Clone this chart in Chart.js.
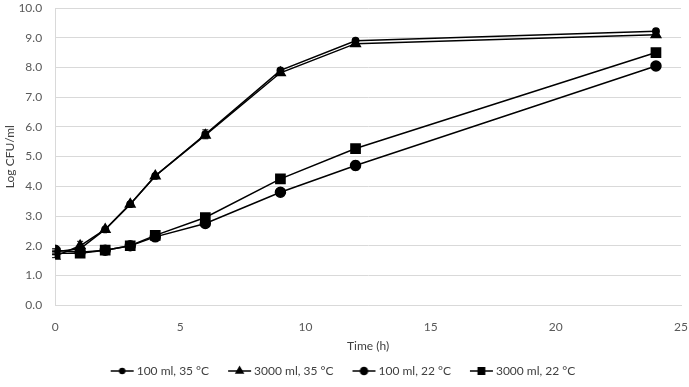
<!DOCTYPE html>
<html>
<head>
<meta charset="utf-8">
<script src="https://cdn.jsdelivr.net/npm/chart.js@4/dist/chart.umd.min.js"></script>
<style>
  body { margin: 0; background: #fff; }
</style>
</head>
<body>
<canvas id="myChart" width="689" height="387"></canvas>
<script>
const times = [0, 1, 2, 3, 4, 6, 9, 12, 24];
const seriesNames = ['100 ml, 35 °C', '3000 ml, 35 °C', '100 ml, 22 °C', '3000 ml, 22 °C'];

const small35 = [1.80, 1.90, 2.55, 3.40, 4.35, 5.75, 7.90, 8.90, 9.22];
const large35 = [1.65, 2.00, 2.55, 3.40, 4.35, 5.72, 7.82, 8.80, 9.10];
const small22 = [1.85, 1.78, 1.85, 2.00, 2.30, 2.75, 3.80, 4.70, 8.05];
const large22 = [1.75, 1.75, 1.85, 2.00, 2.35, 2.95, 4.25, 5.27, 8.50];

const err35small = [0.05, 0.10, 0.05, 0.05, 0.05, 0.15, 0.05, 0.05, 0.05];
const err35large = [0.05, 0.15, 0.05, 0.05, 0.05, 0.08, 0.05, 0.05, 0.05];
const err22small = [0.05, 0.05, 0.05, 0.05, 0.08, 0.05, 0.05, 0.15, 0.05];
const err22large = [0.05, 0.05, 0.05, 0.05, 0.05, 0.05, 0.05, 0.05, 0.05];

const styles = ['circle', 'triangle', 'circle', 'rect'];
const radii = [3.2, 5.5, 5, 6.5];

function toPoints(ys) {
  return times.map((t, i) => ({ x: t, y: ys[i] }));
}

// legend icon: blank on the left (acts as item gap), then line with marker
function legendIcon(style, r) {
  const c = document.createElement('canvas');
  c.width = 44; c.height = 12;
  const g = c.getContext('2d');
  g.strokeStyle = '#000'; g.fillStyle = '#000'; g.lineWidth = 1.5;
  g.beginPath(); g.moveTo(20, 6); g.lineTo(43, 6); g.stroke();
  Chart.helpers.drawPoint(g, { pointStyle: style, radius: r, rotation: 0, borderWidth: 1 }, 31.5, 6);
  g.fill();
  return c;
}

const errorBars = {
  id: 'errorBars',
  afterDatasetsDraw(chart) {
    const errs = [err35small, err35large, err22small, err22large];
    const ctx = chart.ctx;
    const xs = chart.scales.x, ys = chart.scales.y;
    ctx.save();
    ctx.strokeStyle = '#000';
    ctx.lineWidth = 1;
    chart.data.datasets.forEach((ds, d) => {
      ds.data.forEach((p, i) => {
        const e = errs[d][i];
        if (!e) return;
        const px = xs.getPixelForValue(p.x);
        const top = ys.getPixelForValue(p.y + e);
        const bot = ys.getPixelForValue(p.y - e);
        ctx.beginPath();
        ctx.moveTo(px, top); ctx.lineTo(px, bot);
        ctx.moveTo(px - 3, top); ctx.lineTo(px + 3, top);
        ctx.moveTo(px - 3, bot); ctx.lineTo(px + 3, bot);
        ctx.stroke();
      });
    });
    ctx.restore();
  }
};

// the blank part of the first icon pushes the legend right, pull it back
const legendNudge = {
  id: 'legendNudge',
  afterLayout(chart) {
    if (chart.legend) {
      chart.legend.left -= 11;
      chart.legend.right -= 11;
    }
  }
};

const allSeries = [small35, large35, small22, large22];
const font = { family: 'Lato', size: 12 };

new Chart(document.getElementById('myChart'), {
  type: 'line',
  data: {
    datasets: allSeries.map((ys, k) => ({
      label: seriesNames[k],
      data: toPoints(ys),
      borderColor: '#000',
      backgroundColor: '#000',
      borderWidth: 1.5,
      pointStyle: styles[k],
      pointRadius: radii[k],
      pointBackgroundColor: '#000',
      pointBorderColor: '#000',
      tension: 0
    }))
  },
  plugins: [errorBars, legendNudge],
  options: {
    responsive: false,
    animation: false,
    layout: { padding: { left: 3, right: 0, top: 0, bottom: 0 } },
    scales: {
      x: {
        type: 'linear',
        min: 0,
        max: 25,
        ticks: {
          stepSize: 5,
          color: '#595959',
          font: font,
          padding: 0
        },
        // invisible tick marks used as the gap between axis and labels
        grid: { display: false, drawTicks: true, tickLength: 15, tickColor: 'transparent' },
        border: { color: '#d9d9d9' },
        title: {
          display: true,
          text: 'Time (h)',
          color: '#404040',
          font: font,
          padding: { top: 4, bottom: 9 }
        }
      },
      y: {
        min: 0,
        max: 10,
        ticks: {
          stepSize: 1,
          color: '#595959',
          font: font,
          callback: v => v.toFixed(1),
          padding: 0
        },
        grid: { color: '#d9d9d9', drawTicks: true, tickLength: 13, tickColor: 'transparent' },
        border: { display: true, color: '#d9d9d9' },
        title: {
          display: true,
          text: 'Log CFU/ml',
          color: '#404040',
          font: font,
          padding: { top: 0, bottom: 1 }
        }
      }
    },
    plugins: {
      legend: {
        position: 'bottom',
        labels: {
          usePointStyle: true,
          pointStyleWidth: 36,
          color: '#404040',
          font: font,
          padding: 3,
          generateLabels: function(chart) {
            return chart.data.datasets.map((ds, i) => ({
              text: ds.label,
              pointStyle: legendIcon(styles[i], [2.5, 4, 3.5, 4.5][i]),
              fillStyle: '#000',
              strokeStyle: '#000',
              lineWidth: 0,
              fontColor: '#404040',
              datasetIndex: i
            }));
          }
        }
      },
      tooltip: { enabled: false }
    }
  }
});
</script>
</body>
</html>
